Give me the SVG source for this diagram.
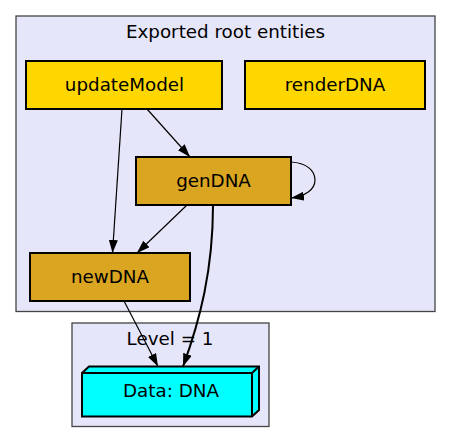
<svg xmlns="http://www.w3.org/2000/svg" width="451" height="443" viewBox="0 0 451 443">
<style>
.cluster{fill:#e6e6fa;stroke:#444444;stroke-width:1.3}
.node{stroke:#000;stroke-width:2}
.lbl{font-family:"DejaVu Sans",sans-serif;font-size:18.3px;text-anchor:middle;fill:#000}
.edge{fill:none;stroke:#000;stroke-width:1.2}
.thick{stroke-width:2}
</style>
<defs>
<marker id="arr" viewBox="0 0 13 9" refX="13" refY="4.5" markerWidth="13" markerHeight="9" markerUnits="userSpaceOnUse" orient="auto">
<path d="M0,0 L13,4.5 L0,9 z" fill="#000"/>
</marker>
</defs>
<rect width="451" height="443" fill="#fff"/>
<g id="cluster_root">
<rect class="cluster" x="16" y="16" width="419" height="295.5"/>
<text class="lbl" x="225.5" y="38">Exported root entities</text>
</g>
<g id="cluster_level1">
<rect class="cluster" x="72" y="323" width="197" height="103.5"/>
<text class="lbl" x="170" y="345">Level = 1</text>
</g>
<g id="edges">
<path class="edge" d="M122,109 L112.5,253" marker-end="url(#arr)"/>
<path class="edge" d="M147,109 L190,157" marker-end="url(#arr)"/>
<path class="edge" d="M291,162 C306,163 315,170 315,180 C315,190 305,196 291,198" marker-end="url(#arr)"/>
<path class="edge" d="M187,205 L137,253" marker-end="url(#arr)"/>
<path class="edge thick" d="M213,205 C213,270 200,320 183,366.5" marker-end="url(#arr)"/>
<path class="edge" d="M124,301 L158,366.5" marker-end="url(#arr)"/>
</g>
<g id="node_updateModel">
<rect class="node" x="26" y="61" width="196" height="48" fill="#ffd700"/>
<text class="lbl" x="124.5" y="90.5">updateModel</text>
</g>
<g id="node_renderDNA">
<rect class="node" x="245" y="61" width="180" height="48" fill="#ffd700"/>
<text class="lbl" x="335" y="90.5">renderDNA</text>
</g>
<g id="node_genDNA">
<rect class="node" x="136" y="157" width="155" height="48" fill="#daa520"/>
<text class="lbl" x="213.5" y="186.5">genDNA</text>
</g>
<g id="node_newDNA">
<rect class="node" x="30" y="253" width="160" height="48" fill="#daa520"/>
<text class="lbl" x="110" y="282.5">newDNA</text>
</g>
<g id="node_DataDNA">
<polygon class="node" points="82,373 89,366.5 259,366.5 259,410 252,416.5 82,416.5" fill="#00ffff"/>
<polyline class="node" points="82,373 252,373 259,366.5" fill="none"/>
<line class="node" x1="252" y1="373" x2="252" y2="416.5"/>
<text class="lbl" x="171" y="397">Data: DNA</text>
</g>
</svg>
